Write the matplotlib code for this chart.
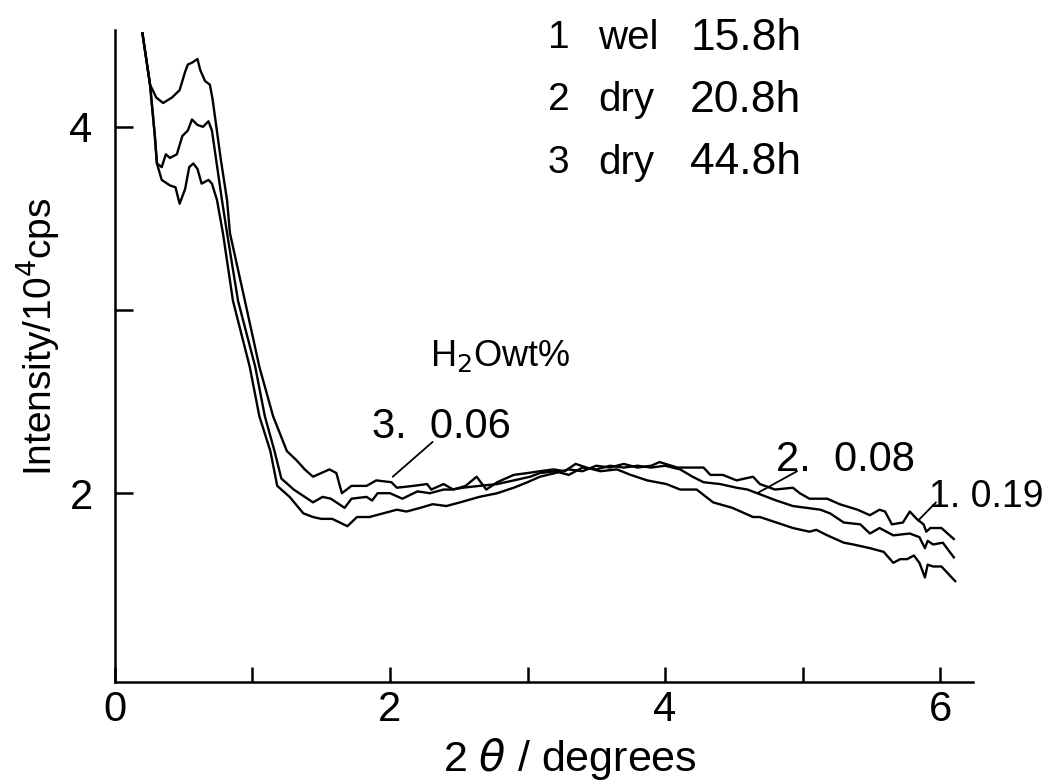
import numpy as np
import matplotlib
matplotlib.use("Agg")
import matplotlib.pyplot as plt

plt.rcParams['font.family'] = ['Liberation Sans', 'DejaVu Sans']
plt.rcParams['mathtext.fontset'] = 'dejavusans'

# sample 3 (dry 44.8h): highest at low angle, lowest at high angle
x3 = [0.20, 0.255, 0.30, 0.35, 0.415, 0.47, 0.51, 0.53, 0.56, 0.60, 0.62, 0.655, 0.69, 0.71,
      0.77, 0.815, 0.836, 0.945, 1.05, 1.15, 1.25, 1.32, 1.38, 1.44, 1.50, 1.56, 1.61, 1.65,
      1.72, 1.83, 1.90, 2.01, 2.05, 2.17, 2.27, 2.30, 2.39, 2.46, 2.55, 2.63, 2.70, 2.78,
      2.90, 3.00, 3.09, 3.19, 3.27, 3.35, 3.43, 3.53, 3.65, 3.75, 3.87, 4.01, 4.11, 4.23,
      4.35, 4.49, 4.64, 4.69, 4.81, 4.93, 5.05, 5.10, 5.18, 5.30, 5.37, 5.49, 5.59, 5.66,
      5.71, 5.76, 5.81, 5.85, 5.89, 5.91, 5.95, 6.01, 6.11]
y3 = [4.51, 4.23, 4.16, 4.13, 4.16, 4.20, 4.30, 4.34, 4.35, 4.37, 4.31, 4.25, 4.23, 4.15,
      3.82, 3.60, 3.42, 3.05, 2.69, 2.42, 2.23, 2.18, 2.13, 2.09, 2.11, 2.13, 2.11, 2.00,
      2.04, 2.04, 2.07, 2.06, 2.03, 2.04, 2.05, 2.02, 2.05, 2.02, 2.04, 2.09, 2.02, 2.06,
      2.10, 2.11, 2.12, 2.13, 2.12, 2.16, 2.14, 2.12, 2.13, 2.10, 2.07, 2.05, 2.02, 2.02,
      1.95, 1.92, 1.87, 1.87, 1.84, 1.81, 1.79, 1.80, 1.77, 1.73, 1.72, 1.70, 1.68, 1.62,
      1.64, 1.64, 1.66, 1.62, 1.54, 1.61, 1.60, 1.60, 1.52]

# sample 2 (dry 20.8h): middle trace
x2 = [0.20, 0.255, 0.29, 0.305, 0.34, 0.37, 0.40, 0.45, 0.49, 0.53, 0.56, 0.60, 0.64, 0.68,
      0.705, 0.778, 0.815, 0.895, 1.02, 1.09, 1.16, 1.21, 1.30, 1.36, 1.44, 1.51, 1.57, 1.67,
      1.72, 1.83, 1.87, 1.91, 2.00, 2.09, 2.20, 2.29, 2.39, 2.45, 2.53, 2.65, 2.78, 2.90,
      3.02, 3.09, 3.20, 3.30, 3.40, 3.50, 3.60, 3.70, 3.80, 3.90, 4.00, 4.11, 4.20, 4.28,
      4.40, 4.52, 4.60, 4.67, 4.81, 4.93, 5.03, 5.13, 5.20, 5.30, 5.42, 5.49, 5.56, 5.66,
      5.78, 5.85, 5.89, 5.91, 5.95, 6.02, 6.10]
y2 = [4.51, 4.23, 3.95, 3.80, 3.78, 3.85, 3.83, 3.85, 3.95, 3.98, 4.04, 4.01, 4.00, 4.03,
      3.98, 3.60, 3.42, 3.05, 2.69, 2.42, 2.23, 2.08, 2.02, 1.99, 1.95, 1.98, 1.97, 1.92,
      1.97, 1.98, 1.96, 2.00, 2.00, 1.97, 2.01, 2.00, 2.02, 2.02, 2.03, 2.04, 2.05, 2.07,
      2.09, 2.11, 2.12, 2.10, 2.14, 2.13, 2.15, 2.14, 2.15, 2.14, 2.15, 2.13, 2.09, 2.06,
      2.05, 2.03, 2.02, 2.00, 1.96, 1.93, 1.92, 1.91, 1.89, 1.84, 1.83, 1.78, 1.81, 1.77,
      1.78, 1.76, 1.70, 1.74, 1.72, 1.73, 1.65]

# sample 1 (wet 15.8h): lowest at low angle, highest at high angle
x1 = [0.20, 0.255, 0.29, 0.305, 0.34, 0.40, 0.44, 0.47, 0.51, 0.54, 0.57, 0.60, 0.63, 0.68,
      0.705, 0.742, 0.785, 0.858, 0.98, 1.05, 1.13, 1.18, 1.27, 1.37, 1.44, 1.50, 1.58, 1.69,
      1.76, 1.85, 1.95, 2.05, 2.12, 2.22, 2.31, 2.41, 2.51, 2.65, 2.78, 2.90, 3.00, 3.09,
      3.20, 3.30, 3.40, 3.50, 3.60, 3.70, 3.80, 3.90, 3.96, 4.09, 4.28, 4.33, 4.42, 4.52,
      4.64, 4.69, 4.80, 4.93, 4.98, 5.05, 5.18, 5.27, 5.40, 5.49, 5.56, 5.60, 5.65, 5.73,
      5.78, 5.83, 5.88, 5.90, 5.93, 6.01, 6.10]
y1 = [4.51, 4.23, 3.95, 3.80, 3.71, 3.68, 3.67, 3.58, 3.66, 3.78, 3.80, 3.77, 3.69, 3.71,
      3.69, 3.60, 3.42, 3.05, 2.69, 2.42, 2.23, 2.04, 1.98, 1.89, 1.87, 1.86, 1.86, 1.82,
      1.87, 1.87, 1.89, 1.91, 1.90, 1.92, 1.94, 1.93, 1.95, 1.98, 2.00, 2.03, 2.06, 2.09,
      2.11, 2.13, 2.12, 2.15, 2.14, 2.16, 2.14, 2.15, 2.17, 2.14, 2.14, 2.10, 2.10, 2.07,
      2.09, 2.05, 2.02, 2.03, 2.00, 1.97, 1.97, 1.94, 1.91, 1.88, 1.91, 1.90, 1.83, 1.84,
      1.90, 1.86, 1.83, 1.79, 1.81, 1.81, 1.75]

sample_ids = ["1", "2", "3"]
sample_states = ["wel", "dry", "dry"]
sample_times = ["15.8h", "20.8h", "44.8h"]

water_labels = ["3.  0.06", "2.  0.08", "1. 0.19"]
label_xy = [(1.87, 2.36), (4.81, 2.18), (5.92, 1.98)]
label_size = [30, 30, 27]
leader_from = [(2.31, 2.28), (4.96, 2.12), (5.97, 1.95)]
leader_to = [(2.02, 2.09), (4.67, 2.00), (5.84, 1.85)]

fig = plt.figure(figsize=(10.49, 7.82), dpi=100)
ax = fig.add_axes([0.1096, 0.128, 0.818, 0.834])

for xs, ys in [(x1, y1), (x2, y2), (x3, y3)]:
    ax.plot(xs, ys, color='black', lw=1.7)

ax.set_xlim(0, 6.24)
ax.set_ylim(0.97, 4.53)
for s in ['top', 'right']:
    ax.spines[s].set_visible(False)
for s in ['left', 'bottom']:
    ax.spines[s].set_linewidth(1.8)

ax.set_xticks([0, 1, 2, 3, 4, 5, 6])
ax.set_xticklabels(["0", "", "2", "", "4", "", "6"])
ax.set_yticks([2, 3, 4])
ax.set_yticklabels(["2", "", "4"])
ax.tick_params(axis='x', direction='in', length=11, width=1.8, labelsize=30, pad=6)
ax.tick_params(axis='y', direction='in', length=13, width=1.8, labelsize=30, pad=16)

ax.set_xlabel(r"2 $\theta$ / degrees", fontsize=31, labelpad=4, x=0.53)
ax.set_ylabel(r"Intensity/10$^4$cps", fontsize=28, labelpad=6, y=0.53)

ax.text(2.29, 2.75, r"H$_2$Owt%", fontsize=26, va='center', ha='left')
for txt, (tx, ty), fs, p0, p1 in zip(water_labels, label_xy, label_size, leader_from, leader_to):
    ax.text(tx, ty, txt, fontsize=fs, va='center', ha='left')
    ax.annotate("", xy=p1, xytext=p0,
                arrowprops=dict(arrowstyle='-', color='black', lw=1.3, shrinkA=0, shrinkB=0))

row_y = [0.951, 0.872, 0.792]
for sid, st, tm, yy in zip(sample_ids, sample_states, sample_times, row_y):
    fig.text(0.522, yy, sid, fontsize=28, va='center', ha='left')
    fig.text(0.570, yy, st, fontsize=29, va='center', ha='left')
    fig.text(0.658, yy, tm, fontsize=32, va='center', ha='left')

fig.savefig("out.png", dpi=100)
